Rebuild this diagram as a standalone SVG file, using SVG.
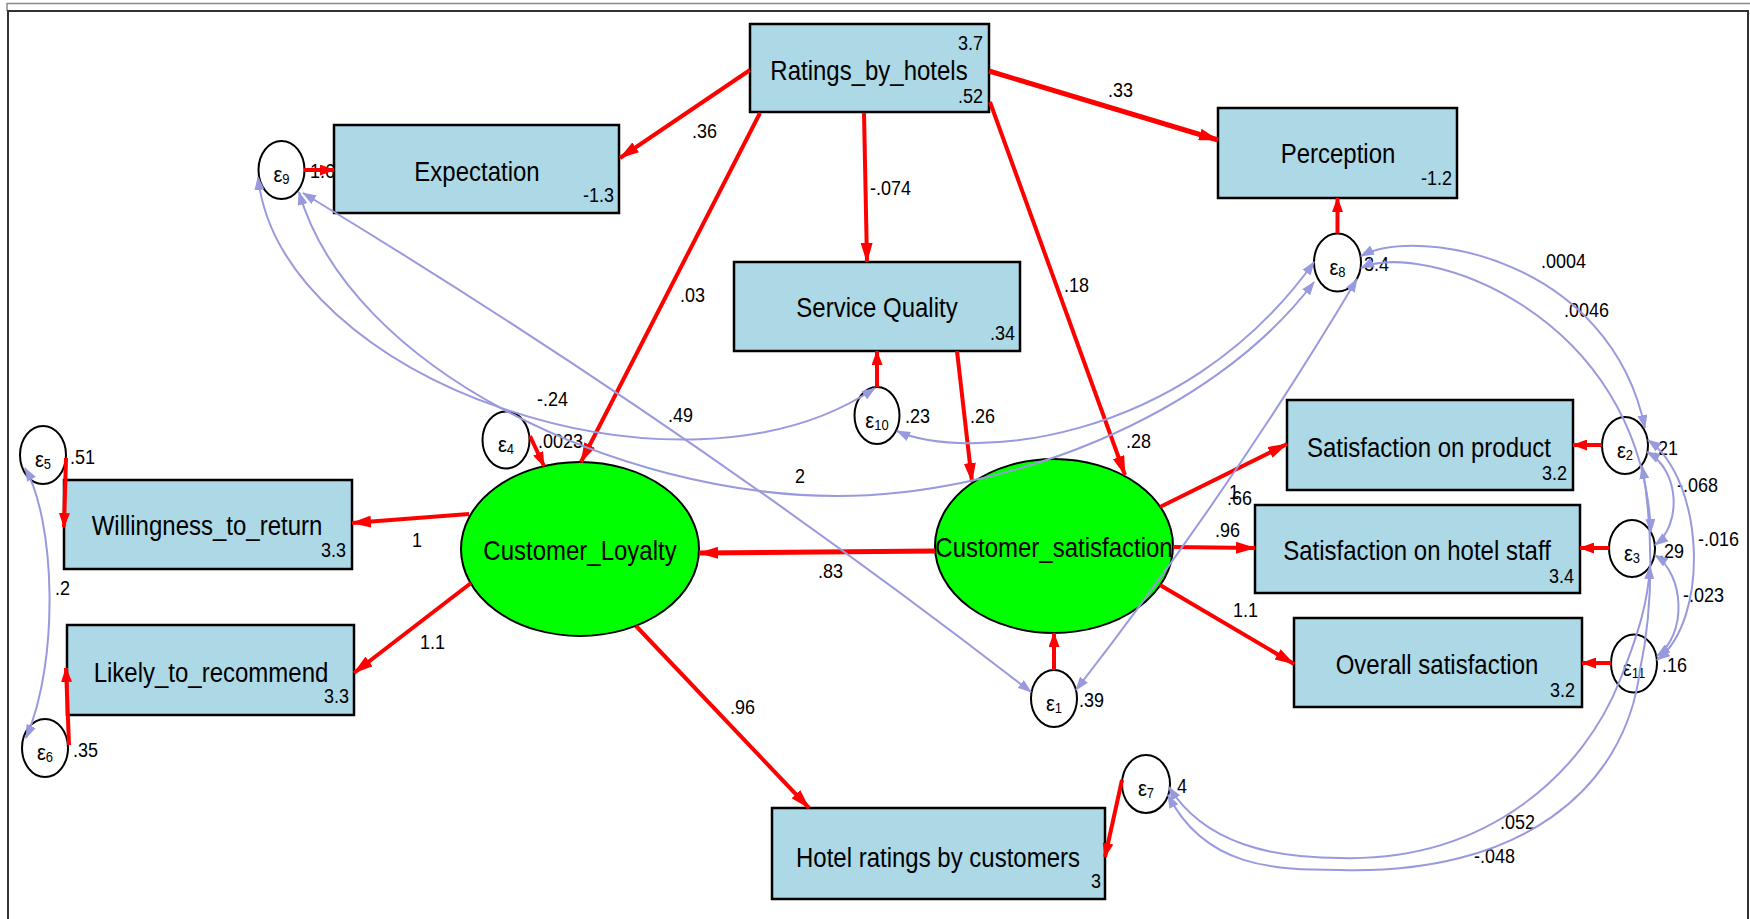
<svg xmlns="http://www.w3.org/2000/svg" width="1750" height="919" viewBox="0 0 1750 919">
<defs>
<style>
.box{fill:#ADD8E6;stroke:#000;stroke-width:2.5}
.lat{fill:#00FF00;stroke:#000;stroke-width:2}
.err{fill:#fff;stroke:#000;stroke-width:2}
text{font-family:"Liberation Sans",Arial,sans-serif;fill:#000}
.lbl{font-size:24px;text-anchor:middle}
.num{font-size:18px}
.r{text-anchor:end}
.eps{font-size:20px;text-anchor:middle}
.sub{font-size:13px}
.p{fill:none;stroke:#FF0000;stroke-width:4;marker-end:url(#ra)}
.pw{fill:none;stroke:#FF0000;stroke-width:5;marker-end:url(#ra)}
.e{fill:none;stroke:#FF0000;stroke-width:4;marker-end:url(#rs)}
.cov{fill:none;stroke:#9999DD;stroke-width:2;marker-start:url(#pa);marker-end:url(#pa)}
</style>
<marker id="ra" markerUnits="userSpaceOnUse" markerWidth="20" markerHeight="12" refX="19" refY="6" orient="auto"><path d="M0,0 L20,6 L0,12 z" fill="#FF0000"/></marker>
<marker id="rs" markerUnits="userSpaceOnUse" markerWidth="15" markerHeight="11" refX="14" refY="5.5" orient="auto"><path d="M0,0 L15,5.5 L0,11 z" fill="#FF0000"/></marker>
<marker id="pa" markerUnits="userSpaceOnUse" markerWidth="14" markerHeight="10" refX="13" refY="5" orient="auto-start-reverse"><path d="M0,0 L14,5 L0,10 z" fill="#9999DD"/></marker>
</defs>
<rect x="0" y="0" width="1750" height="919" fill="#fff"/>
<g id="frame">
<line x1="7" y1="3.5" x2="1750" y2="3.5" stroke="#888" stroke-width="1.5"/>
<line x1="7" y1="3" x2="7" y2="11" stroke="#888" stroke-width="1.5"/>
<rect x="8" y="11" width="1740" height="920" fill="none" stroke="#333" stroke-width="2"/>
</g>

<g id="Ratings_by_hotels">
<rect class="box" x="750" y="24" width="239" height="88"/>
<text class="lbl" transform="translate(869 80) scale(1 1.12)">Ratings_by_hotels</text>
<text class="num r" transform="translate(983 50) scale(1 1.12)">3.7</text>
<text class="num r" transform="translate(983 103) scale(1 1.12)">.52</text>
</g>
<g id="Expectation">
<rect class="box" x="334" y="125" width="285" height="88"/>
<text class="lbl" transform="translate(477 181) scale(1 1.12)">Expectation</text>
<text class="num r" transform="translate(614 202) scale(1 1.12)">-1.3</text>
</g>
<g id="Perception">
<rect class="box" x="1218" y="108" width="239" height="90"/>
<text class="lbl" transform="translate(1338 163) scale(1 1.12)">Perception</text>
<text class="num r" transform="translate(1452 185) scale(1 1.12)">-1.2</text>
</g>
<g id="Service_Quality">
<rect class="box" x="734" y="262" width="286" height="89"/>
<text class="lbl" transform="translate(877 317) scale(1 1.12)">Service Quality</text>
<text class="num r" transform="translate(1015 340) scale(1 1.12)">.34</text>
</g>
<g id="Satisfaction_on_product">
<rect class="box" x="1287" y="400" width="286" height="90"/>
<text class="lbl" transform="translate(1429 457) scale(1 1.12)">Satisfaction on product</text>
<text class="num r" transform="translate(1567 480) scale(1 1.12)">3.2</text>
</g>
<g id="Satisfaction_on_hotel_staff">
<rect class="box" x="1255" y="505" width="325" height="88"/>
<text class="lbl" transform="translate(1417 560) scale(1 1.12)">Satisfaction on hotel staff</text>
<text class="num r" transform="translate(1574 583) scale(1 1.12)">3.4</text>
</g>
<g id="Overall_satisfaction">
<rect class="box" x="1294" y="618" width="288" height="89"/>
<text class="lbl" transform="translate(1437 674) scale(1 1.12)">Overall satisfaction</text>
<text class="num r" transform="translate(1575 697) scale(1 1.12)">3.2</text>
</g>
<g id="Willingness_to_return">
<rect class="box" x="64" y="480" width="288" height="89"/>
<text class="lbl" transform="translate(207 535) scale(1 1.12)">Willingness_to_return</text>
<text class="num r" transform="translate(346 557) scale(1 1.12)">3.3</text>
</g>
<g id="Likely_to_recommend">
<rect class="box" x="67" y="625" width="287" height="90"/>
<text class="lbl" transform="translate(211 682) scale(1 1.12)">Likely_to_recommend</text>
<text class="num r" transform="translate(349 703) scale(1 1.12)">3.3</text>
</g>
<g id="Hotel_ratings_by_customers">
<rect class="box" x="772" y="808" width="333" height="91"/>
<text class="lbl" transform="translate(938 867) scale(1 1.12)">Hotel ratings by customers</text>
<text class="num r" transform="translate(1101 888) scale(1 1.12)">3</text>
</g>
<g id="Customer_Loyalty">
<ellipse class="lat" cx="580" cy="549" rx="119" ry="87"/>
<text class="lbl" transform="translate(580 560) scale(1 1.12)">Customer_Loyalty</text>
</g>
<g id="Customer_satisfaction">
<ellipse class="lat" cx="1054" cy="546" rx="119" ry="87"/>
<text class="lbl" transform="translate(1054 557) scale(1 1.12)">Customer_satisfaction</text>
</g>

<g id="e1"><ellipse class="err" cx="1054" cy="698.5" rx="23" ry="28.5"/><text class="eps" transform="translate(1054 710.5) scale(1 1.12)">ε<tspan class="sub" dy="2">1</tspan></text><text class="num" transform="translate(1079 707) scale(1 1.12)">.39</text></g>
<g id="e2"><ellipse class="err" cx="1625" cy="445.5" rx="23" ry="28.5"/><text class="eps" transform="translate(1625 457.5) scale(1 1.12)">ε<tspan class="sub" dy="2">2</tspan></text><text class="num" transform="translate(1653 455) scale(1 1.12)">.21</text></g>
<g id="e3"><ellipse class="err" cx="1632" cy="548.5" rx="23" ry="28.5"/><text class="eps" transform="translate(1632 560.5) scale(1 1.12)">ε<tspan class="sub" dy="2">3</tspan></text><text class="num" transform="translate(1659 558) scale(1 1.12)">.29</text></g>
<g id="e4"><ellipse class="err" cx="506" cy="440" rx="23.5" ry="28.5"/><text class="eps" transform="translate(506 452) scale(1 1.12)">ε<tspan class="sub" dy="2">4</tspan></text><text class="num" transform="translate(538 448) scale(1 1.12)">.0023</text></g>
<g id="e5"><ellipse class="err" cx="43" cy="455" rx="23" ry="29"/><text class="eps" transform="translate(43 467) scale(1 1.12)">ε<tspan class="sub" dy="2">5</tspan></text><text class="num" transform="translate(70 464) scale(1 1.12)">.51</text></g>
<g id="e6"><ellipse class="err" cx="45" cy="748" rx="23" ry="29"/><text class="eps" transform="translate(45 760) scale(1 1.12)">ε<tspan class="sub" dy="2">6</tspan></text><text class="num" transform="translate(73 757) scale(1 1.12)">.35</text></g>
<g id="e7"><ellipse class="err" cx="1146" cy="784" rx="24" ry="29"/><text class="eps" transform="translate(1146 796) scale(1 1.12)">ε<tspan class="sub" dy="2">7</tspan></text><text class="num" transform="translate(1177 793) scale(1 1.12)">4</text></g>
<g id="e8"><ellipse class="err" cx="1337.5" cy="262.5" rx="23.5" ry="29"/><text class="eps" transform="translate(1337.5 274.5) scale(1 1.12)">ε<tspan class="sub" dy="2">8</tspan></text><text class="num" transform="translate(1364 271) scale(1 1.12)">3.4</text></g>
<g id="e9"><ellipse class="err" cx="281.5" cy="170" rx="23" ry="29"/><text class="eps" transform="translate(281.5 182) scale(1 1.12)">ε<tspan class="sub" dy="2">9</tspan></text><text class="num" transform="translate(310 178) scale(1 1.12)">1.6</text></g>
<g id="e10"><ellipse class="err" cx="877" cy="415.5" rx="22.5" ry="28.5"/><text class="eps" transform="translate(877 427.5) scale(1 1.12)">ε<tspan class="sub" dy="2">10</tspan></text><text class="num" transform="translate(905 423) scale(1 1.12)">.23</text></g>
<g id="e11"><ellipse class="err" cx="1634" cy="663.5" rx="23" ry="29"/><text class="eps" transform="translate(1634 675.5) scale(1 1.12)">ε<tspan class="sub" dy="2">11</tspan></text><text class="num" transform="translate(1662 672) scale(1 1.12)">.16</text></g>

<g id="connectors">
<g id="coef-labels">
<text class="num" transform="translate(692 138) scale(1 1.12)">.36</text>
<text class="num" transform="translate(680 302) scale(1 1.12)">.03</text>
<text class="num" transform="translate(870 195) scale(1 1.12)">-.074</text>
<text class="num" transform="translate(1108 97) scale(1 1.12)">.33</text>
<text class="num" transform="translate(1064 292) scale(1 1.12)">.18</text>
<text class="num" transform="translate(970 423) scale(1 1.12)">.26</text>
<text class="num" transform="translate(1126 448) scale(1 1.12)">.28</text>
<text class="num" transform="translate(668 422) scale(1 1.12)">.49</text>
<text class="num" transform="translate(537 406) scale(1 1.12)">-.24</text>
<text class="num" transform="translate(795 483) scale(1 1.12)">2</text>
<text class="num" transform="translate(818 578) scale(1 1.12)">.83</text>
<text class="num" transform="translate(412 547) scale(1 1.12)">1</text>
<text class="num" transform="translate(420 649) scale(1 1.12)">1.1</text>
<text class="num" transform="translate(730 714) scale(1 1.12)">.96</text>
<text class="num" transform="translate(1229 499) scale(1 1.12)">1</text>
<text class="num" transform="translate(1227 505) scale(1 1.12)">.66</text>
<text class="num" transform="translate(1215 537) scale(1 1.12)">.96</text>
<text class="num" transform="translate(1233 617) scale(1 1.12)">1.1</text>
<text class="num" transform="translate(1541 268) scale(1 1.12)">.0004</text>
<text class="num" transform="translate(1564 317) scale(1 1.12)">.0046</text>
<text class="num" transform="translate(1677 492) scale(1 1.12)">-.068</text>
<text class="num" transform="translate(1698 546) scale(1 1.12)">-.016</text>
<text class="num" transform="translate(1683 602) scale(1 1.12)">-.023</text>
<text class="num" transform="translate(55 595) scale(1 1.12)">.2</text>
<text class="num" transform="translate(1500 829) scale(1 1.12)">.052</text>
<text class="num" transform="translate(1474 863) scale(1 1.12)">-.048</text>
</g>
<path class="p" d="M750,70 L620,158"/>
<path class="p" d="M760,113 L581,462"/>
<path class="p" d="M864,113 L867,262"/>
<path class="p" d="M990,102 L1125,475"/>
<path class="pw" d="M989,71 L1218,140"/>
<path class="p" d="M957,351 L972,482"/>
<path class="pw" d="M935,551 L699,553"/>
<path class="p" d="M469,514 L352,523"/>
<path class="p" d="M471,583 L354,673"/>
<path class="p" d="M636,626 L809,808"/>
<path class="p" d="M1160,507 L1287,444"/>
<path class="p" d="M1173,547 L1255,548"/>
<path class="p" d="M1160,585 L1294,664"/>
<path class="e" d="M304,170 L334,170"/>
<path class="e" d="M1337.5,233.5 L1337.5,198"/>
<path class="e" d="M877,387 L877,351"/>
<path class="e" d="M530,436 L544,466"/>
<path class="e" d="M66,458 L64,527"/>
<path class="e" d="M69,745 L66,668"/>
<path class="e" d="M1054,670 L1054,633"/>
<path class="e" d="M1122,780 L1105,857"/>
<path class="e" d="M1602,445 L1573,445"/>
<path class="e" d="M1609,548 L1580,548"/>
<path class="e" d="M1611,663 L1582,663"/>
<path class="cov" d="M258,177 C280,380 680,520 875,388"/>
<path class="cov" d="M299,192 C350,370 620,496 837,496 C1000,496 1210,420 1314,282"/>
<path class="cov" d="M303,193 Q685,424 1031,692"/>
<path class="cov" d="M897,431 C960,460 1180,450 1314,262"/>
<path class="cov" d="M1357,279 Q1232,489 1076,690"/>
<path class="cov" d="M1361,256 C1420,225 1610,260 1645,428"/>
<path class="cov" d="M1361,268 C1420,240 1640,310 1651,532"/>
<path class="cov" d="M1647,452 C1680,470 1682,525 1655,545"/>
<path class="cov" d="M1648,440 C1705,480 1710,620 1657,660"/>
<path class="cov" d="M1655,555 C1685,575 1687,635 1657,656"/>
<path class="cov" d="M1169,787 C1205,845 1275,858 1340,858 C1490,862 1585,770 1620,680 C1640,630 1648,600 1650,566"/>
<path class="cov" d="M1168,795 C1205,868 1275,870 1340,870 C1520,875 1625,790 1640,670 C1655,600 1652,520 1642,466"/>
<path class="cov" d="M25,468 C55,520 60,660 26,738"/>
</g>
</svg>
